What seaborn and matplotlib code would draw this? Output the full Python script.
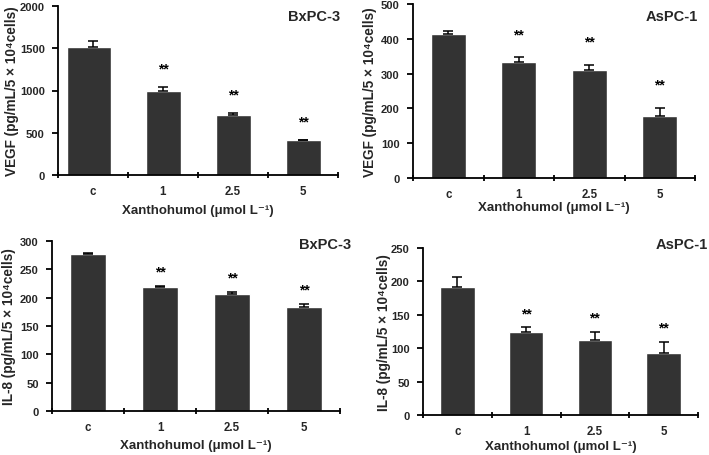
import matplotlib
matplotlib.use('Agg')
import matplotlib.pyplot as plt
import seaborn as sns
import numpy as np
import pandas as pd

# ---- data ----
doses = ['c', '1', '2.5', '5']

vegf_bxpc3 = [1510, 1000, 705, 410]
vegf_bxpc3_sd = [70, 45, 32, 10]

vegf_aspc1 = [413, 333, 310, 179]
vegf_aspc1_sd = [9, 15, 16, 23]

il8_bxpc3 = [277, 219, 206, 183]
il8_bxpc3_sd = [1.5, 2, 4, 6]

il8_aspc1 = [191, 125, 113, 93]
il8_aspc1_sd = [16, 6, 12, 17]

stars = ['', '**', '**', '**']
vegf_ylabel = 'VEGF (pg/mL/5 × 10⁴cells)'
il8_ylabel = 'IL-8 (pg/mL/5 × 10⁴cells)'
xlabel = 'Xanthohumol (μmol L⁻¹)'

sns.set_theme(style='ticks')
plt.rcParams['font.family'] = ['Liberation Sans', 'DejaVu Sans']
plt.rcParams['font.weight'] = 'bold'

W, H = 709, 456
fig = plt.figure(figsize=(W / 100, H / 100), dpi=100)


def px_axes(left, right, top, bottom):
    return [left / W, 1 - bottom / H, (right - left) / W, (bottom - top) / H]


panels = [
    dict(rect=px_axes(58, 338, 7, 176), vals=vegf_bxpc3, sd=vegf_bxpc3_sd, ymax=2000, step=500,
         ylabel=vegf_ylabel, title='BxPC-3', tpos=(1.007, 0.94), star_off=13, wide_first=True,
         ylab=(-0.139, 0.5), xlab=(0.5, -0.17)),
    dict(rect=px_axes(413, 695, 5, 179), vals=vegf_aspc1, sd=vegf_aspc1_sd, ymax=500, step=100,
         ylabel=vegf_ylabel, title='AsPC-1', tpos=(1.011, 0.931), star_off=16.5, wide_first=False,
         ylab=(-0.126, 0.5), xlab=(0.5, -0.135)),
    dict(rect=px_axes(52, 340, 242, 412), vals=il8_bxpc3, sd=il8_bxpc3_sd, ymax=300, step=50,
         ylabel=il8_ylabel, title='BxPC-3', tpos=(1.04, 0.982), star_off=10.5, wide_first=False,
         ylab=(-0.125, 0.5), xlab=(0.5, -0.165)),
    dict(rect=px_axes(423, 698, 249, 416), vals=il8_aspc1, sd=il8_aspc1_sd, ymax=250, step=50,
         ylabel=il8_ylabel, title='AsPC-1', tpos=(1.036, 1.024), star_off=10, wide_first=False,
         ylab=(-0.118, 0.5), xlab=(0.5, -0.15)),
]

bar_color = '#333333'
lw = 1.3

for p in panels:
    ax = fig.add_axes(p['rect'])
    df = pd.DataFrame({'dose': doses, 'value': p['vals']})
    sns.barplot(data=df, x='dose', y='value', color=bar_color, saturation=1,
                width=0.5, errorbar=None, ax=ax, zorder=2)
    if p['wide_first']:
        patch = ax.patches[0]
        cx = patch.get_x() + patch.get_width() / 2
        patch.set_width(0.63)
        patch.set_x(cx - 0.315 - 0.06)
    ax.errorbar(np.arange(len(doses)), p['vals'],
                yerr=[np.zeros(len(doses)), p['sd']], fmt='none',
                ecolor='black', elinewidth=1.1, capsize=3.5, capthick=1.1, zorder=3)
    for i, s in enumerate(stars):
        if s:
            ax.annotate(s, xy=(i, p['vals'][i] + p['sd'][i]), xytext=(0, p['star_off']),
                        textcoords='offset points', ha='center', va='center',
                        fontsize=10, fontweight='bold', color='black')
    ax.set_xlim(-0.5, 3.5)
    ax.set_ylim(0, p['ymax'])
    ax.set_yticks(np.arange(0, p['ymax'] + 1, p['step']))
    ax.set_xticks(np.arange(len(doses)))
    ax.set_xticklabels(doses)
    ax.set_xticks(np.arange(-0.5, 4, 1), minor=True)
    ax.tick_params(axis='x', which='major', length=0, pad=7, labelsize=8.3)
    ax.tick_params(axis='x', which='minor', direction='inout', length=5, width=lw, color='black')
    ax.tick_params(axis='y', which='major', direction='out', length=4, width=lw, pad=5.5,
                   labelsize=8, color='black')
    for lab in ax.get_xticklabels() + ax.get_yticklabels():
        lab.set_fontweight('bold')
    sns.despine(ax=ax)
    for sp in ('left', 'bottom'):
        ax.spines[sp].set_linewidth(lw)
        ax.spines[sp].set_color('black')
    ax.set_ylabel(p['ylabel'], fontsize=9.8, fontweight='bold')
    ax.set_xlabel(xlabel, fontsize=9.5, fontweight='bold')
    ax.yaxis.set_label_coords(*p['ylab'])
    ax.xaxis.set_label_coords(*p['xlab'])
    ax.text(p['tpos'][0], p['tpos'][1], p['title'], transform=ax.transAxes,
            ha='right', va='center', fontsize=10.5, fontweight='bold')
    ax.set_facecolor('white')

fig.savefig('out.png', dpi=100, facecolor='white')
